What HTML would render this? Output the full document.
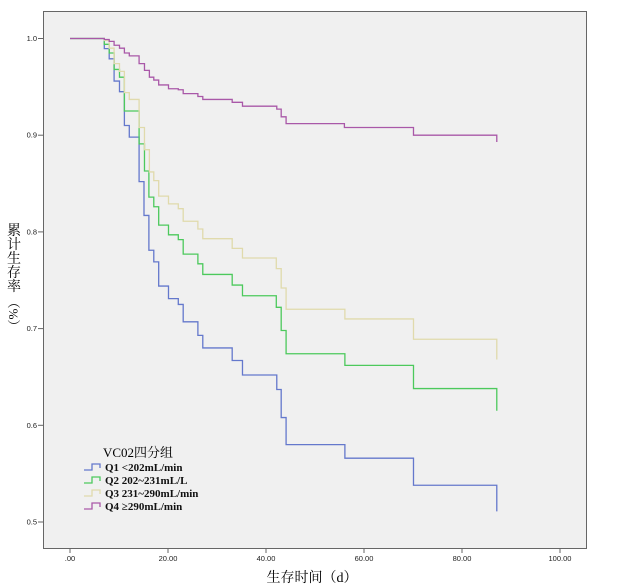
<!DOCTYPE html>
<html><head><meta charset="utf-8"><style>
html,body{margin:0;padding:0;background:#fff;width:623px;height:588px;overflow:hidden}
svg{display:block}
</style></head><body>
<svg id="chart" width="623" height="588" xmlns="http://www.w3.org/2000/svg">
<rect x="43.5" y="11.5" width="543" height="537" fill="#f0f0f0" stroke="#666" stroke-width="1"/>
<g id="axes"></g>
<g id="series"></g>
<text x="312" y="582" text-anchor="middle" font-family="'Liberation Serif','Noto Serif CJK SC',serif" font-size="14">生存时间（d）</text>
<text font-family="'Liberation Serif','Noto Serif CJK SC',serif" font-size="14" text-anchor="middle">
<tspan x="14" y="235">累</tspan><tspan x="14" y="249">计</tspan><tspan x="14" y="263">生</tspan><tspan x="14" y="277">存</tspan><tspan x="14" y="291">率</tspan>
</text>
<text transform="translate(9,314) rotate(90)" text-anchor="middle" font-family="'Liberation Serif','Noto Serif CJK SC',serif" font-size="13">（%）</text>
<g font-family="'Liberation Serif','Noto Serif CJK SC',serif">
<text x="103" y="457" font-size="13">VC02四分组</text>
<g id="legend-entries"></g>
</g>
</svg>
<script>
const xTicks=[0,20,40,60,80,100];
const xTickLabels=[".00","20.00","40.00","60.00","80.00","100.00"];
const yTicks=[0.5,0.6,0.7,0.8,0.9,1.0];
const yTickLabels=["0.5","0.6","0.7","0.8","0.9","1.0"];
const seriesNames=["Q1 <202mL/min","Q2 202~231mL/L","Q3 231~290mL/min","Q4 \u2265290mL/min"];
const q1Days=[0,7.0,8.0,9.0,10.1,11.1,12.1,14.1,15.1,16.1,17.1,18.1,20.1,22.1,23.1,26.1,27.1,33.1,35.2,42.2,43.1,44.1,56.1,70.1,87.1];
const q1Surv=[1,0.9895,0.979,0.956,0.945,0.910,0.898,0.852,0.817,0.781,0.769,0.744,0.731,0.725,0.707,0.693,0.680,0.667,0.652,0.637,0.608,0.580,0.566,0.538,0.511];
const q2Days=[0,7.0,8.0,9.0,10.1,11.1,14.1,15.2,16.1,17.1,18.1,20.1,22.1,23.1,26.1,27.1,33.1,35.2,42.1,43.1,44.1,56.1,70.1,87.1];
const q2Surv=[1,0.994,0.985,0.968,0.960,0.925,0.891,0.863,0.836,0.826,0.807,0.797,0.792,0.777,0.767,0.756,0.745,0.734,0.722,0.698,0.674,0.662,0.638,0.615];
const q3Days=[0,7.0,8.0,9.0,10.1,11.1,12.1,14.1,15.2,16.2,17.1,18.1,20.1,22.1,23.1,26.1,27.1,33.1,35.2,42.1,43.1,44.1,56.1,70.1,87.1];
const q3Surv=[1,0.998,0.990,0.974,0.966,0.944,0.937,0.908,0.885,0.862,0.853,0.837,0.829,0.824,0.811,0.803,0.793,0.783,0.773,0.762,0.742,0.720,0.710,0.689,0.668];
const q4Days=[0,7.0,8.0,9.0,10.1,11.1,12.1,14.1,15.2,16.2,17.1,18.1,20.1,22.1,23.1,26.1,27.1,33.1,35.2,42.2,43.1,44.1,56.0,70.1,87.1];
const q4Surv=[1,0.999,0.997,0.993,0.990,0.985,0.982,0.974,0.967,0.960,0.957,0.952,0.948,0.947,0.943,0.940,0.937,0.934,0.930,0.927,0.919,0.912,0.908,0.900,0.893];

const NS="http://www.w3.org/2000/svg";
const xs=d=>70+d*4.9;
const ys=v=>38.5+(1-v)*967;
function mk(tag,attrs,parent){const e=document.createElementNS(NS,tag);for(const k in attrs)e.setAttribute(k,attrs[k]);parent.appendChild(e);return e;}
const axes=document.getElementById('axes');
xTicks.forEach((t,i)=>{
  const l=mk('line',{x1:xs(t),x2:xs(t),y1:548.5,y2:553,stroke:'#666'},axes);
  
  
  const tx=mk('text',{x:xs(t),y:561,'text-anchor':'middle','font-family':'Liberation Sans,sans-serif','font-size':'7.5',fill:'#222'},axes);
  tx.textContent=xTickLabels[i];
  
  
});
yTicks.forEach((t,i)=>{
  const l=mk('line',{x1:38,x2:43.5,y1:ys(t),y2:ys(t),stroke:'#666'},axes);
  
  
  const tx=mk('text',{x:37,y:ys(t)+2.5,'text-anchor':'end','font-family':'Liberation Sans,sans-serif','font-size':'7.5',fill:'#222'},axes);
  tx.textContent=yTickLabels[i];
  
  
});
const colors=["#6478cc","#4cc95c","#e0daac","#a958a8"];
const all=[[q1Days,q1Surv],[q2Days,q2Surv],[q3Days,q3Surv],[q4Days,q4Surv]];
const sg=document.getElementById('series');
all.forEach((s,i)=>{
  const [d,v]=s;
  let p='M'+xs(d[0])+','+ys(v[0]);
  for(let k=1;k<d.length;k++){
    p+=' H'+xs(d[k])+' V'+ys(v[k]);
  }
  const path=mk('path',{d:p,fill:'none',stroke:colors[i],'stroke-width':'1.3'},sg);
  
  
});
const lg=document.getElementById('legend-entries');
seriesNames.forEach((n,i)=>{
  const y=470+i*13;
  const ic=mk('path',{d:`M84,${y} H92 V${y-6} H100 V${y-2}`,fill:'none',stroke:colors[i],'stroke-width':'1.3'},lg);
  
  
  const t=mk('text',{x:105,y:y+1,'font-size':'11','font-weight':'bold',fill:'#111'},lg);
  t.textContent=n;
  
  
});
</script>
</body></html>
